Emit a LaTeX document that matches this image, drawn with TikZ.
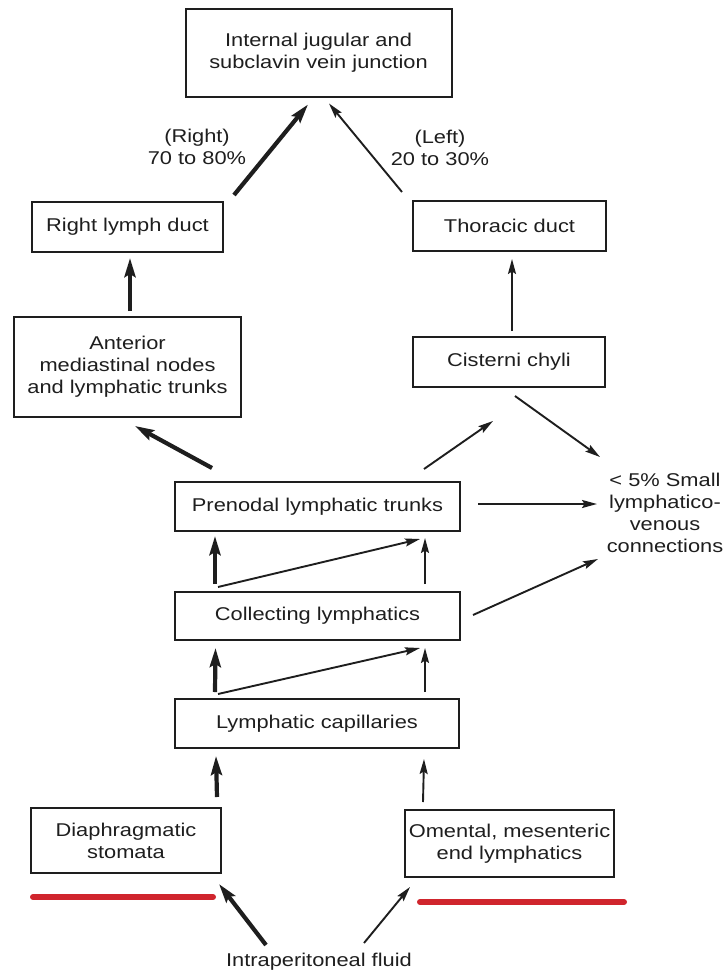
\documentclass[tikz,border=0pt]{standalone}
\usepackage{fontspec}
\setmainfont[FakeStretch=1.18]{Liberation Sans}
\usetikzlibrary{arrows.meta}
\definecolor{redmark}{HTML}{D0252D}
\definecolor{ink}{HTML}{1E1E1E}
\begin{document}
\begin{tikzpicture}[x=1pt,y=-1pt,
  box/.style={draw=ink, line width=2pt, rectangle, inner sep=0pt, align=center, text=ink, font=\fontsize{18.5}{22}\selectfont},
  lbl/.style={inner sep=0pt, align=center, text=ink, font=\fontsize{18.5}{22}\selectfont},
  thickarr/.style={draw=ink, line width=4.2pt, -{Stealth[length=19pt,width=11pt,inset=3pt]}},
  thinarr/.style={draw=ink, line width=1.9pt, -{Stealth[length=15pt,width=8pt,inset=2.5pt]}},
  redline/.style={draw=redmark, line width=6pt, line cap=round}]
\useasboundingbox (0,0) rectangle (724,972);

% boxes
\node[box, minimum width=266pt, minimum height=88pt] (top) at (318.5,52.5) {Internal jugular and\\subclavin vein junction};
\node[box, minimum width=191pt, minimum height=50pt] (rld) at (127.5,227) {Right lymph duct};
\node[box, minimum width=193pt, minimum height=50pt] (td) at (509.5,226) {Thoracic duct};
\node[box, minimum width=227pt, minimum height=100pt] (amn) at (127.5,367) {Anterior\\mediastinal nodes\\and lymphatic trunks};
\node[box, minimum width=192pt, minimum height=50pt] (cc) at (509,362) {Cisterni chyli};
\node[box, minimum width=285pt, minimum height=49pt] (pre) at (317.5,506.5) {Prenodal lymphatic trunks};
\node[box, minimum width=285pt, minimum height=48pt] (col) at (317.5,616) {Collecting lymphatics};
\node[box, minimum width=284pt, minimum height=49pt] (cap) at (317,723.5) {Lymphatic capillaries};
\node[box, minimum width=190pt, minimum height=65pt] (dia) at (126,840.5) {Diaphragmatic\\stomata};
\node[box, minimum width=209pt, minimum height=67pt] (om) at (509.5,843.5) {Omental, mesenteric\\end lymphatics};

% free texts
\node[lbl] (fluid) at (319,962) {Intraperitoneal fluid};
\node[lbl] (sm) at (665,513) {< 5\% Small\\lymphatico-\\venous\\connections};
\node[lbl] (rlab) at (197,147) {(Right)\\70 to 80\%};
\node[lbl] (llab) at (440,148) {(Left)\\20 to 30\%};

% connectors
\draw[thickarr] ([xshift=10pt,yshift=6pt]rld.north east) -- ([xshift=-10.5pt,yshift=-7pt]top.south);
\draw[thinarr] ([xshift=-10pt,yshift=8pt]td.north west) -- ([xshift=10.5pt,yshift=-6pt]top.south);
\draw[thickarr] ([xshift=2.5pt,yshift=5pt]amn.north) -- ([xshift=2.5pt,yshift=-5pt]rld.south);
\draw[thinarr] ([xshift=3pt,yshift=5pt]cc.north) -- ([xshift=2.5pt,yshift=-7pt]td.south);
\draw[thickarr] ([xshift=38pt,yshift=13pt]pre.north west) -- ([xshift=7.5pt,yshift=-8pt]amn.south);
\draw[thinarr] ([xshift=-37pt,yshift=12pt]pre.north east) -- ([xshift=-16pt,yshift=-33pt]cc.south);
\draw[thinarr] ([xshift=6pt,yshift=-8pt]cc.south) -- ([xshift=-65pt,yshift=56pt]sm.center);
\draw[thinarr] ([xshift=17pt,yshift=2.5pt]pre.east) -- ([xshift=-68pt,yshift=9pt]sm.center);
\draw[thinarr] ([xshift=12pt,yshift=1pt]col.east) -- ([xshift=-67pt,yshift=-46pt]sm.center);

\draw[thickarr] ([xshift=-102.5pt,yshift=7pt]col.north) -- ([xshift=-102.5pt,yshift=-4pt]pre.south);
\draw[thinarr] ([xshift=107.5pt,yshift=7pt]col.north) -- ([xshift=107.5pt,yshift=-6pt]pre.south);
\draw[thinarr] ([xshift=-99.5pt,yshift=4pt]col.north) -- ([xshift=102.5pt,yshift=-7pt]pre.south);

\draw[thickarr] ([xshift=-102pt,yshift=6pt]cap.north) -- ([xshift=-102pt,yshift=-7pt]col.south);
\draw[thinarr] ([xshift=108pt,yshift=6pt]cap.north) -- ([xshift=107.5pt,yshift=-7pt]col.south);
\draw[thinarr] ([xshift=-99pt,yshift=4pt]cap.north) -- ([xshift=102.5pt,yshift=-7pt]col.south);

\draw[thickarr] ([xshift=-5pt,yshift=10pt]dia.north east) -- ([xshift=-101pt,yshift=-7pt]cap.south);
\draw[thinarr] ([xshift=19pt,yshift=7pt]om.north west) -- ([xshift=107pt,yshift=-10pt]cap.south);

\draw[thickarr] ([xshift=-53pt,yshift=17pt]fluid.center) -- ([xshift=-3pt,yshift=-10pt]dia.south east);
\draw[thinarr] ([xshift=45pt,yshift=19pt]fluid.center) -- ([xshift=6pt,yshift=-9pt]om.south west);

% red underlines
\draw[redline] (33,897) -- (213,897);
\draw[redline] (420,902) -- (624,902);
\end{tikzpicture}
\end{document}
